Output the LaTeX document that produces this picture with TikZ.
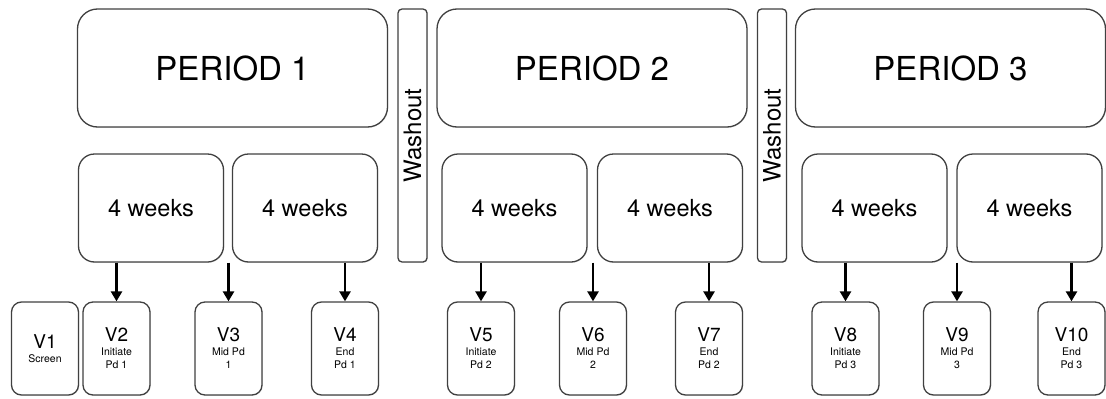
\documentclass[tikz,border=0pt]{standalone}
\usepackage{fontspec}
\setmainfont{TeX Gyre Heros}
\usepackage{tikz}
\usetikzlibrary{arrows.meta,positioning,calc,shadows}
\newcommand{\VisitName}[1]{{\fontsize{19}{19}\selectfont #1}}

\begin{document}
\begin{tikzpicture}[
    x=1pt, y=-1pt,
    box/.style={draw=black!75, line width=1.3pt, fill=white, inner sep=0pt, align=center, text=black,
        drop shadow={shadow xshift=0.8pt, shadow yshift=-0.8pt, opacity=0.18}},
    period/.style={box, minimum width=310pt, minimum height=118pt, rounded corners=20pt, font=\fontsize{33}{33}\selectfont},
    washout/.style={box, rotate=90, minimum width=253pt, minimum height=29pt, rounded corners=4pt, font=\fontsize{24}{24}\selectfont},
    weeks/.style={box, minimum width=145pt, minimum height=108pt, rounded corners=16pt, font=\fontsize{23.5}{23.5}\selectfont},
    visit/.style={box, minimum width=67pt, minimum height=93pt, rounded corners=10pt, font=\fontsize{10.5}{13.5}\selectfont},
    visitarrow/.style={-{Triangle[width=11pt,length=10pt]}, line width=2.8pt, black},
    >=Stealth
]
    \useasboundingbox (0,0) rectangle (1106,399);

    % Periods
    \node[period] (p1) at (232.5,68) {PERIOD 1};
    \node[period] (p2) at (592,68) {PERIOD 2};
    \node[period] (p3) at (950.5,68) {PERIOD 3};

    % Washouts
    \node[washout] (wash1) at (412.5,135.5) {Washout};
    \node[washout] (wash2) at (772,135.5) {Washout};

    % Four week blocks
    \node[weeks] (w1) at (151,208) {4 weeks};
    \node[weeks] (w2) at (305,208) {4 weeks};
    \node[weeks] (w3) at (514.5,208) {4 weeks};
    \node[weeks] (w4) at (670,208) {4 weeks};
    \node[weeks] (w5) at (874.5,208) {4 weeks};
    \node[weeks] (w6) at (1029.5,208) {4 weeks};

    % Visits
    \node[visit] (v1) at (45,348.5) {\VisitName{V1}\\[1pt]Screen};
    \node[visit] (v2) at (116.5,348.5) {\VisitName{V2}\\Initiate\\Pd 1};
    \node[visit] (v3) at (228.5,348.5) {\VisitName{V3}\\Mid Pd\\1};
    \node[visit] (v4) at (345,348.5) {\VisitName{V4}\\End\\Pd 1};
    \node[visit] (v5) at (481,348.5) {\VisitName{V5}\\Initiate\\Pd 2};
    \node[visit] (v6) at (593,348.5) {\VisitName{V6}\\Mid Pd\\2};
    \node[visit] (v7) at (709,348.5) {\VisitName{V7}\\End\\Pd 2};
    \node[visit] (v8) at (845.5,348.5) {\VisitName{V8}\\Initiate\\Pd 3};
    \node[visit] (v9) at (957,348.5) {\VisitName{V9}\\Mid Pd\\3};
    \node[visit] (v10) at (1071.5,348.5) {\VisitName{V10}\\End\\Pd 3};

    % Arrows
    \draw[visitarrow] (v2.north |- w1.south) -- (v2.north);
    \draw[visitarrow] (v3.north |- w1.south) -- (v3.north);
    \draw[visitarrow] (v4.north |- w2.south) -- (v4.north);
    \draw[visitarrow] (v5.north |- w3.south) -- (v5.north);
    \draw[visitarrow] (v6.north |- w3.south) -- (v6.north);
    \draw[visitarrow] (v7.north |- w4.south) -- (v7.north);
    \draw[visitarrow] (v8.north |- w5.south) -- (v8.north);
    \draw[visitarrow] (v9.north |- w5.south) -- (v9.north);
    \draw[visitarrow] (v10.north |- w6.south) -- (v10.north);

\end{tikzpicture}
\end{document}
